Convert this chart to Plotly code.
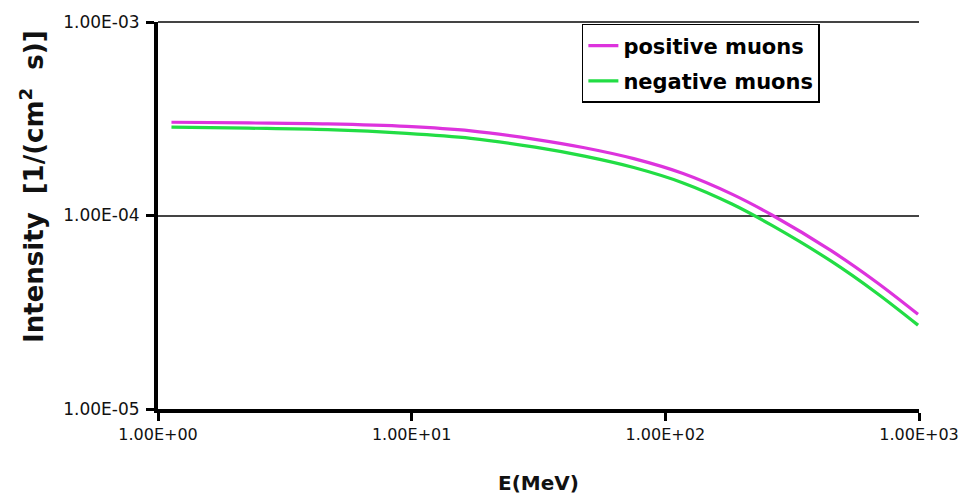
import plotly.graph_objects as go

# Energy (MeV)
energy = [1.13, 2.28, 4.67, 9.56, 17.12, 30.65, 47.97, 75.07, 117.5, 183.9, 263.2, 450.5, 674.2, 991.1]
# Intensity [1/(cm^2 s)]
positive_muons = [3.034e-4, 3.009e-4, 2.974e-4, 2.887e-4, 2.738e-4, 2.476e-4, 2.239e-4,
                  1.967e-4, 1.648e-4, 1.286e-4, 1.006e-4, 6.577e-5, 4.561e-5, 3.088e-5]
negative_muons = [2.860e-4, 2.827e-4, 2.777e-4, 2.658e-4, 2.506e-4, 2.254e-4, 2.026e-4,
                  1.769e-4, 1.473e-4, 1.143e-4, 8.887e-5, 5.808e-5, 4.014e-5, 2.713e-5]

x_tickvals = [1, 10, 100, 1000]
x_ticktext = ["1.00E+00", "1.00E+01", "1.00E+02", "1.00E+03"]
y_tickvals = [1e-5, 1e-4, 1e-3]
y_ticktext = ["1.00E-05", "1.00E-04", "1.00E-03"]

FONT = "DejaVu Sans"

fig = go.Figure()
fig.add_trace(go.Scatter(x=energy, y=positive_muons, mode="lines", name="positive muons",
                         line=dict(color="#dd33dd", width=3.2, shape="spline", smoothing=1.0),
                         legendgroup="p"))
fig.add_trace(go.Scatter(x=energy, y=negative_muons, mode="lines", name="negative muons",
                         line=dict(color="#22dd44", width=3.2, shape="spline", smoothing=1.0),
                         legendgroup="n"))

# top gridline at 1.00E-03 (Plotly hides grid lines on the plot edge)
fig.add_shape(type="line", xref="paper", yref="paper", x0=0, x1=1, y0=1, y1=1,
              line=dict(color="#444", width=2), layer="below")

# y-axis title drawn as annotation to match its off-centre position
fig.add_annotation(text="Intensity&nbsp; [1/(cm<sup>2</sup>&nbsp; s)]",
                   xref="paper", yref="paper", x=-0.165, y=0.575,
                   xanchor="center", yanchor="middle", textangle=-90, showarrow=False,
                   font=dict(family=FONT, size=26, color="#111", weight="bold"))

fig.update_layout(
    width=971, height=504,
    margin=dict(l=158, r=43, t=20, b=94),
    paper_bgcolor="white", plot_bgcolor="white",
    font=dict(family=FONT, color="#111"),
    legend=dict(x=0.557, y=0.995, xanchor="left", yanchor="top",
                bgcolor="white", bordercolor="black", borderwidth=1.5,
                font=dict(family=FONT, size=21, color="black", weight="bold"),
                itemwidth=30, tracegroupgap=5),
    xaxis=dict(type="log", range=[0, 3],
               tickvals=x_tickvals, ticktext=x_ticktext,
               tickfont=dict(family=FONT, size=16, color="#111"),
               showgrid=False, showline=True, linecolor="black", linewidth=4,
               ticks="outside", ticklen=8, tickwidth=3, tickcolor="black",
               title=dict(text="E(MeV)", font=dict(family=FONT, size=20, color="#111", weight="bold"),
                          standoff=34)),
    yaxis=dict(type="log", range=[-5, -3],
               tickvals=y_tickvals, ticktext=y_ticktext,
               tickfont=dict(family=FONT, size=17, color="#111"),
               ticklabelstandoff=3,
               showgrid=True, gridcolor="#444", gridwidth=2,
               showline=True, linecolor="black", linewidth=4,
               ticks="outside", ticklen=8, tickwidth=3, tickcolor="black"),
)

fig.write_html("out.html")
